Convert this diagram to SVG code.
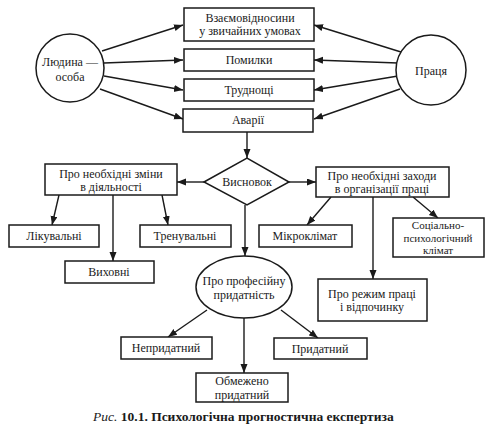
<svg xmlns="http://www.w3.org/2000/svg" width="496" height="444" viewBox="0 0 496 444">
<defs>
<marker id="ah" markerWidth="10" markerHeight="8" refX="9" refY="3.5" orient="auto" markerUnits="userSpaceOnUse">
<path d="M0,0 L9,3.5 L0,7 z" fill="#1a1a1a"/>
</marker>
<style>
.box{fill:#fff;stroke:#1a1a1a;stroke-width:1.5}
.t{font-family:"Liberation Serif","DejaVu Serif",serif;font-size:12px;fill:#1a1a1a;text-anchor:middle;dominant-baseline:central}
.s{font-size:11px}
.c{fill:none;stroke:#1a1a1a;stroke-width:1.4;marker-end:url(#ah)}
</style>
</defs>
<rect width="496" height="444" fill="#fff"/>
<g id="connectors">
<line class="c" x1="102" y1="51" x2="183" y2="25"/>
<line class="c" x1="104" y1="63" x2="183" y2="60"/>
<line class="c" x1="104" y1="76" x2="183" y2="90"/>
<line class="c" x1="100" y1="89" x2="183" y2="119"/>
<line class="c" x1="401" y1="52" x2="314" y2="25"/>
<line class="c" x1="398" y1="63" x2="314" y2="60"/>
<line class="c" x1="398" y1="76" x2="314" y2="90"/>
<line class="c" x1="400" y1="89" x2="314" y2="119"/>
<line class="c" x1="247" y1="132" x2="247" y2="158"/>
<line class="c" x1="204" y1="182" x2="177" y2="182"/>
<line class="c" x1="289" y1="182" x2="316" y2="182"/>
<line class="c" x1="245" y1="205" x2="245" y2="256"/>
<line class="c" x1="59" y1="195" x2="52" y2="225"/>
<line class="c" x1="113" y1="195" x2="113" y2="261"/>
<line class="c" x1="162" y1="195" x2="168" y2="225"/>
<line class="c" x1="331" y1="197" x2="307" y2="225"/>
<line class="c" x1="373" y1="197" x2="373" y2="279"/>
<line class="c" x1="413" y1="197" x2="438" y2="218"/>
<line class="c" x1="207" y1="310" x2="168" y2="337"/>
<line class="c" x1="244" y1="318" x2="244" y2="373"/>
<line class="c" x1="281" y1="310" x2="318" y2="338"/>
</g>
<g id="lyudyna">
<circle class="box" cx="70" cy="68" r="34"/>
<text class="t" x="70" y="62">Людина —</text>
<text class="t" x="70" y="77">особа</text>
</g>
<g id="pratsya">
<circle class="box" cx="431" cy="70" r="35"/>
<text class="t" x="431" y="71">Праця</text>
</g>
<g id="vzaiemo">
<rect class="box" x="184" y="8" width="130" height="33"/>
<text class="t" x="250" y="18">Взаємовідносини</text>
<text class="t" x="250" y="31">у звичайних умовах</text>
</g>
<g id="pomylky">
<rect class="box" x="184" y="49" width="130" height="22"/>
<text class="t" x="249" y="60">Помилки</text>
</g>
<g id="trudnoshchi">
<rect class="box" x="184" y="79" width="130" height="22"/>
<text class="t" x="249" y="90">Труднощі</text>
</g>
<g id="avarii">
<rect class="box" x="183" y="109" width="130" height="23"/>
<text class="t" x="248" y="120">Аварії</text>
</g>
<g id="vysnovok">
<polygon class="box" points="204,182 247,158 289,182 247,205"/>
<text class="t" x="247" y="182">Висновок</text>
</g>
<g id="zminy">
<rect class="box" x="45" y="164" width="132" height="31"/>
<text class="t" x="111" y="174">Про необхідні зміни</text>
<text class="t" x="111" y="187">в діяльності</text>
</g>
<g id="zakhody">
<rect class="box" x="316" y="167" width="133" height="30"/>
<text class="t" x="382" y="176">Про необхідні заходи</text>
<text class="t" x="382" y="189">в організації праці</text>
</g>
<g id="likuvalni">
<rect class="box" x="9" y="225" width="90" height="22"/>
<text class="t" x="54" y="236">Лікувальні</text>
</g>
<g id="vykhovni">
<rect class="box" x="65" y="261" width="89" height="22"/>
<text class="t" x="109" y="272">Виховні</text>
</g>
<g id="trenuvalni">
<rect class="box" x="140" y="225" width="91" height="22"/>
<text class="t" x="185" y="236">Тренувальні</text>
</g>
<g id="mikroklimat">
<rect class="box" x="259" y="225" width="93" height="22"/>
<text class="t" x="305" y="236">Мікроклімат</text>
</g>
<g id="sotsialno">
<rect class="box" x="393" y="218" width="91" height="39"/>
<text class="t s" x="438" y="225">Соціально-</text>
<text class="t s" x="438" y="237.5">психологічний</text>
<text class="t s" x="438" y="250">клімат</text>
</g>
<g id="rezhym">
<rect class="box" x="318" y="279" width="109" height="42"/>
<text class="t" x="372" y="293.5">Про режим праці</text>
<text class="t" x="372" y="307">і відпочинку</text>
</g>
<g id="prydatnist">
<ellipse class="box" cx="244" cy="287" rx="48" ry="31"/>
<text class="t" x="244" y="281">Про професійну</text>
<text class="t" x="244" y="295">придатність</text>
</g>
<g id="neprydatnyi">
<rect class="box" x="121" y="337" width="91" height="22"/>
<text class="t" x="166" y="348">Непридатний</text>
</g>
<g id="prydatnyi">
<rect class="box" x="274" y="338" width="93" height="21"/>
<text class="t" x="320" y="348.5">Придатний</text>
</g>
<g id="obmezheno">
<rect class="box" x="196" y="373" width="92" height="29"/>
<text class="t" x="242" y="380.5">Обмежено</text>
<text class="t" x="242" y="394.5">придатний</text>
</g>
<text x="93" y="421" style="font-family:'Liberation Serif','DejaVu Serif',serif;font-size:13.5px;fill:#1a1a1a"><tspan font-style="italic">Рис.</tspan><tspan font-weight="bold"> 10.1. Психологічна прогностична експертиза</tspan></text>
</svg>
